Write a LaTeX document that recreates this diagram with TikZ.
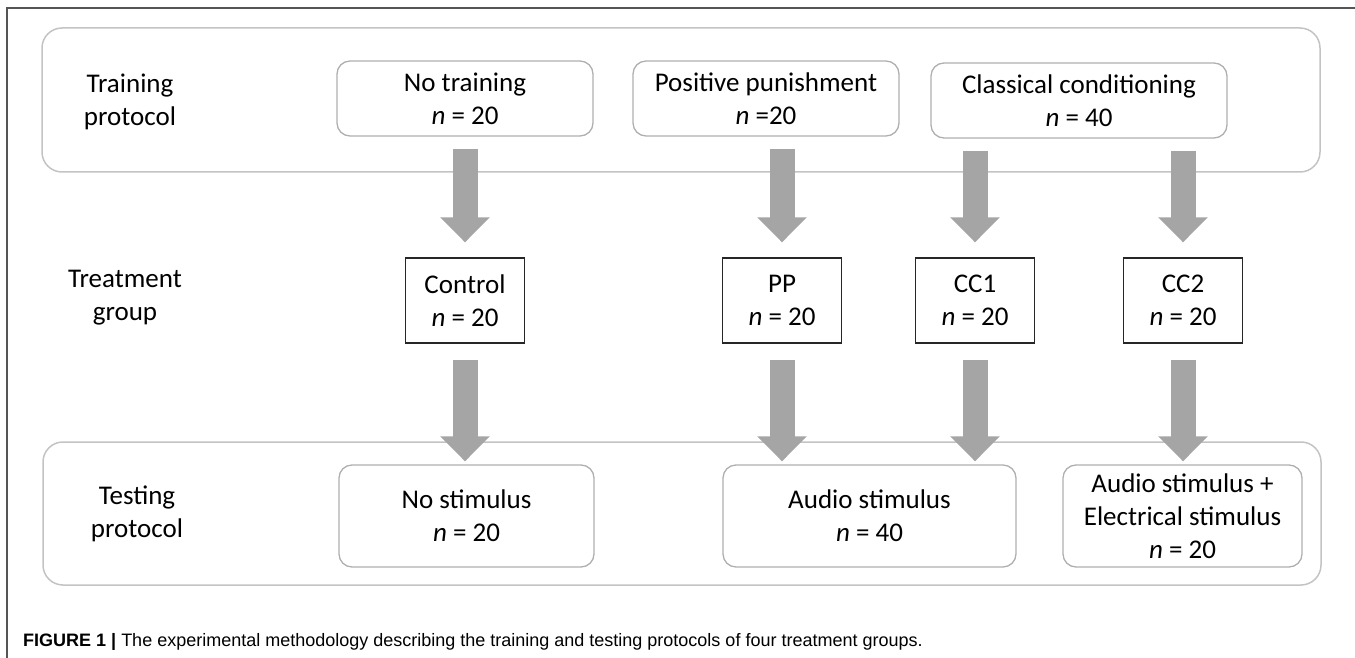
\documentclass[tikz,border=0pt]{standalone}
\usepackage{fontspec}
\setmainfont{Carlito}
\newfontfamily\capfont{Liberation Sans}
\usetikzlibrary{positioning}
\usetikzlibrary{arrows.meta}

\definecolor{arrowgray}{RGB}{165,165,165}
\definecolor{panelgray}{RGB}{195,195,195}
\definecolor{boxgray}{RGB}{175,175,175}
\definecolor{framegray}{RGB}{85,85,85}

\begin{document}
\begin{tikzpicture}[x=1pt,y=-1pt,
    panel/.style={draw=panelgray, line width=1.5pt, rounded corners=20pt, minimum width=1278pt, minimum height=144pt},
    stage/.style={draw=boxgray, line width=1.3pt, rounded corners=13pt, align=center, inner sep=2pt, minimum height=75pt, font=\fontsize{27}{33}\selectfont},
    group/.style={draw=black!85, line width=1.3pt, align=center, inner sep=2pt, minimum height=85pt, minimum width=119pt, font=\fontsize{27}{33}\selectfont},
    rowlabel/.style={align=center, font=\fontsize{27}{33}\selectfont},
    bigarrow/.style={arrowgray, line width=25pt, -{Triangle[length=25pt,width=48pt]}},
]
\useasboundingbox (0,0) rectangle (1355,658);
\draw[framegray, line width=1.5pt] (7,658) -- (7,8) -- (1355,8);

% training protocol
\node[panel] (trainpanel) at (681,100) {};
\node[rowlabel] (trainlbl) at (130,102) {Training\\protocol};
\node[stage, minimum width=256pt] (notrain) at (465,98.5) {No training\\\textit{n} = 20};
\node[stage, minimum width=266pt] (posp) at (766,98.5) {Positive punishment\\\textit{n} =20};
\node[stage, minimum width=296pt] (classc) at (1079,100.5) {Classical conditioning\\\textit{n} = 40};

% treatment group
\node[rowlabel] (treatlbl) at (125,298) {Treatment\\group};
\node[group] (control) at (465,300.5) {Control\\\textit{n} = 20};
\node[group] (pp) at (782,300.5) {PP\\\textit{n} = 20};
\node[group] (cc1) at (975,300.5) {CC1\\\textit{n} = 20};
\node[group] (cc2) at (1183,300.5) {CC2\\\textit{n} = 20};

% testing protocol
\node[panel, minimum height=143pt] (testpanel) at (682,513.5) {};
\node[rowlabel] (testlbl) at (137,514) {Testing\\protocol};
\node[stage, minimum width=255pt, minimum height=102pt] (nostim) at (466.5,516) {No stimulus\\\textit{n} = 20};
\node[stage, minimum width=293pt, minimum height=102pt] (audio) at (869.5,516) {Audio stimulus\\\textit{n} = 40};
\node[stage, minimum width=239pt, minimum height=102pt] (audioel) at (1182.5,516) {Audio stimulus +\\Electrical stimulus\\\textit{n} = 20};

% arrows
\begin{scope}[shorten <=12pt, shorten >=15pt]
  \draw[bigarrow] (notrain.south) -- (notrain.south |- control.north);
  \draw[bigarrow] (pp.north |- posp.south) -- (pp.north);
  \draw[bigarrow] (cc1.north |- classc.south) -- (cc1.north);
  \draw[bigarrow] (cc2.north |- classc.south) -- (cc2.north);
\end{scope}
\begin{scope}[shorten <=16pt, shorten >=3pt]
  \draw[bigarrow] (control.south) -- (control.south |- nostim.north);
  \draw[bigarrow] (pp.south) -- (pp.south |- audio.north);
  \draw[bigarrow] (cc1.south) -- (cc1.south |- audio.north);
  \draw[bigarrow] (cc2.south) -- (cc2.south |- audioel.north);
\end{scope}

\node[anchor=west, inner sep=0pt, font=\capfont\fontsize{18}{22}\selectfont] (caption) at (23,642)
  {\textbf{FIGURE 1 |} The experimental methodology describing the training and testing protocols of four treatment groups.};
\end{tikzpicture}
\end{document}
